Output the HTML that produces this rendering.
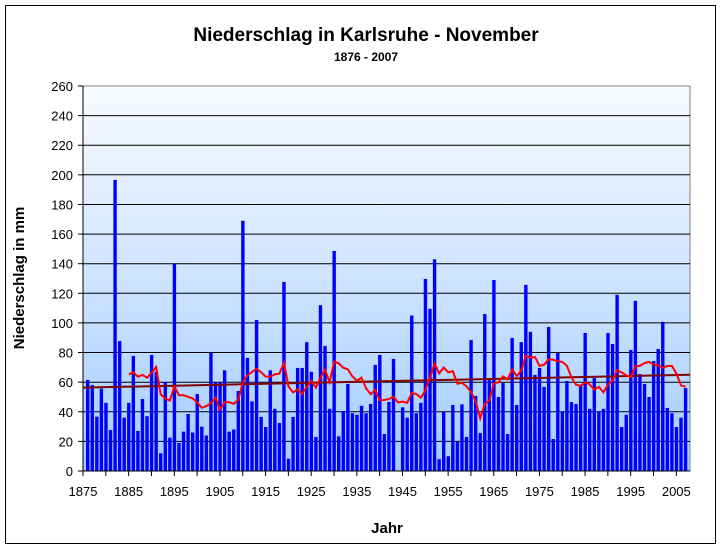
<!DOCTYPE html>
<html><head><meta charset="utf-8"><style>
body{margin:0;background:#fff}
svg{display:block;font-family:"Liberation Sans",Arial,sans-serif}
</style></head><body>
<svg id="s" width="721" height="549" xmlns="http://www.w3.org/2000/svg">
<defs><linearGradient id="g" x1="0" y1="0" x2="0" y2="1">
<stop offset="0" stop-color="#f8fbff"/><stop offset="0.45" stop-color="#d3e6ff"/><stop offset="1" stop-color="#a2ccff"/></linearGradient></defs>
<rect x="0" y="0" width="721" height="549" fill="#fff"/>
<rect x="5.5" y="5.5" width="710" height="538" fill="#fff" stroke="#000" stroke-width="1"/>
<rect x="83" y="86" width="607" height="385" fill="url(#g)" stroke="#808080" stroke-width="1"/>
<g id="grid"></g><g id="bars"></g><g id="lines"></g><g id="axes"></g>
<text x="366" y="41" text-anchor="middle" font-size="19" font-weight="bold">Niederschlag in Karlsruhe - November</text>
<text x="366" y="61" text-anchor="middle" font-size="12" font-weight="bold">1876 - 2007</text>
<text transform="translate(24,278) rotate(-90)" text-anchor="middle" font-size="15" font-weight="bold">Niederschlag in mm</text>
<text x="387" y="533" text-anchor="middle" font-size="15" font-weight="bold">Jahr</text>
</svg>
<script>
var d=[61.5,58,36.7,55.6,46,27.7,196.6,87.8,36,46,77.7,27,48.6,37,78.4,67,12,60,22.5,140,19,26.6,38.5,26,52,30,24,79.7,59.7,60,68,26.6,28,54,
169,76.4,47,102,36.5,29.7,68,42,32.4,127.7,8.3,36.5,69.6,69.6,87,67,23,112,84.5,42,148.6,23.4,40.5,58.8,39,38,44,39,45.3,71.6,78.4,25,46.6,
75.7,0,43,36,105,39,46,129.7,109.5,143,8,40,10,44.6,19.6,45,23,88.5,50.7,25.7,106,61.5,129,50,59.4,25,89.9,44.6,87,125.7,94,64.9,69.6,
56.8,97.3,21.6,79.7,40,60.8,46.6,45.3,58,93.2,42,62.8,40,42,93.2,85.8,119,29.7,38,81.8,114.9,65.5,58.8,50,74.3,82.4,100.7,42.6,39,29.7,36,56];
var NS="http://www.w3.org/2000/svg";
function el(p,t,a,txt){var e=document.createElementNS(NS,t);for(var k in a)e.setAttribute(k,a[k]);if(txt!=null)e.textContent=txt;document.getElementById(p).appendChild(e);return e;}
function Y(v){return 471-v*1.4808;}
var sw=4.564;
for(var v=20;v<=240;v+=20){el("grid","line",{x1:83,x2:690,y1:Y(v).toFixed(1),y2:Y(v).toFixed(1),stroke:"#000","stroke-width":1});}
for(var i=0;i<d.length;i++){var x=86+i*sw;el("bars","rect",{x:x.toFixed(2),y:Y(d[i]).toFixed(2),width:3.4,height:(d[i]*1.4808).toFixed(2),fill:"#0000ff"});}
el("lines","line",{x1:83,y1:Y(56.3),x2:690,y2:Y(65),stroke:"#800000","stroke-width":2});
var pts=[];for(var i=9;i<d.length;i++){var s=0;for(var j=i-9;j<=i;j++)s+=d[j];pts.push((86+i*sw+1.7).toFixed(1)+","+Y(s/10).toFixed(1));}
el("lines","polyline",{points:pts.join(" "),fill:"none",stroke:"#ff0000","stroke-width":2});
el("axes","line",{x1:83,y1:86,x2:83,y2:471,stroke:"#000"});
el("axes","line",{x1:83,y1:471,x2:690,y2:471,stroke:"#000"});
for(var v=0;v<=260;v+=20){var y=Y(v);el("axes","line",{x1:78,x2:83,y1:y,y2:y,stroke:"#000"});el("axes","text",{x:73,y:y+5,"text-anchor":"end","font-size":13},v);}
for(var k=0;k<=26;k++){var x=83+k*5*sw;el("axes","line",{x1:x,x2:x,y1:471,y2:476,stroke:"#000"});if(k%2==0)el("axes","text",{x:x,y:496,"text-anchor":"middle","font-size":13},1875+k*5);}
</script>
</body></html>
